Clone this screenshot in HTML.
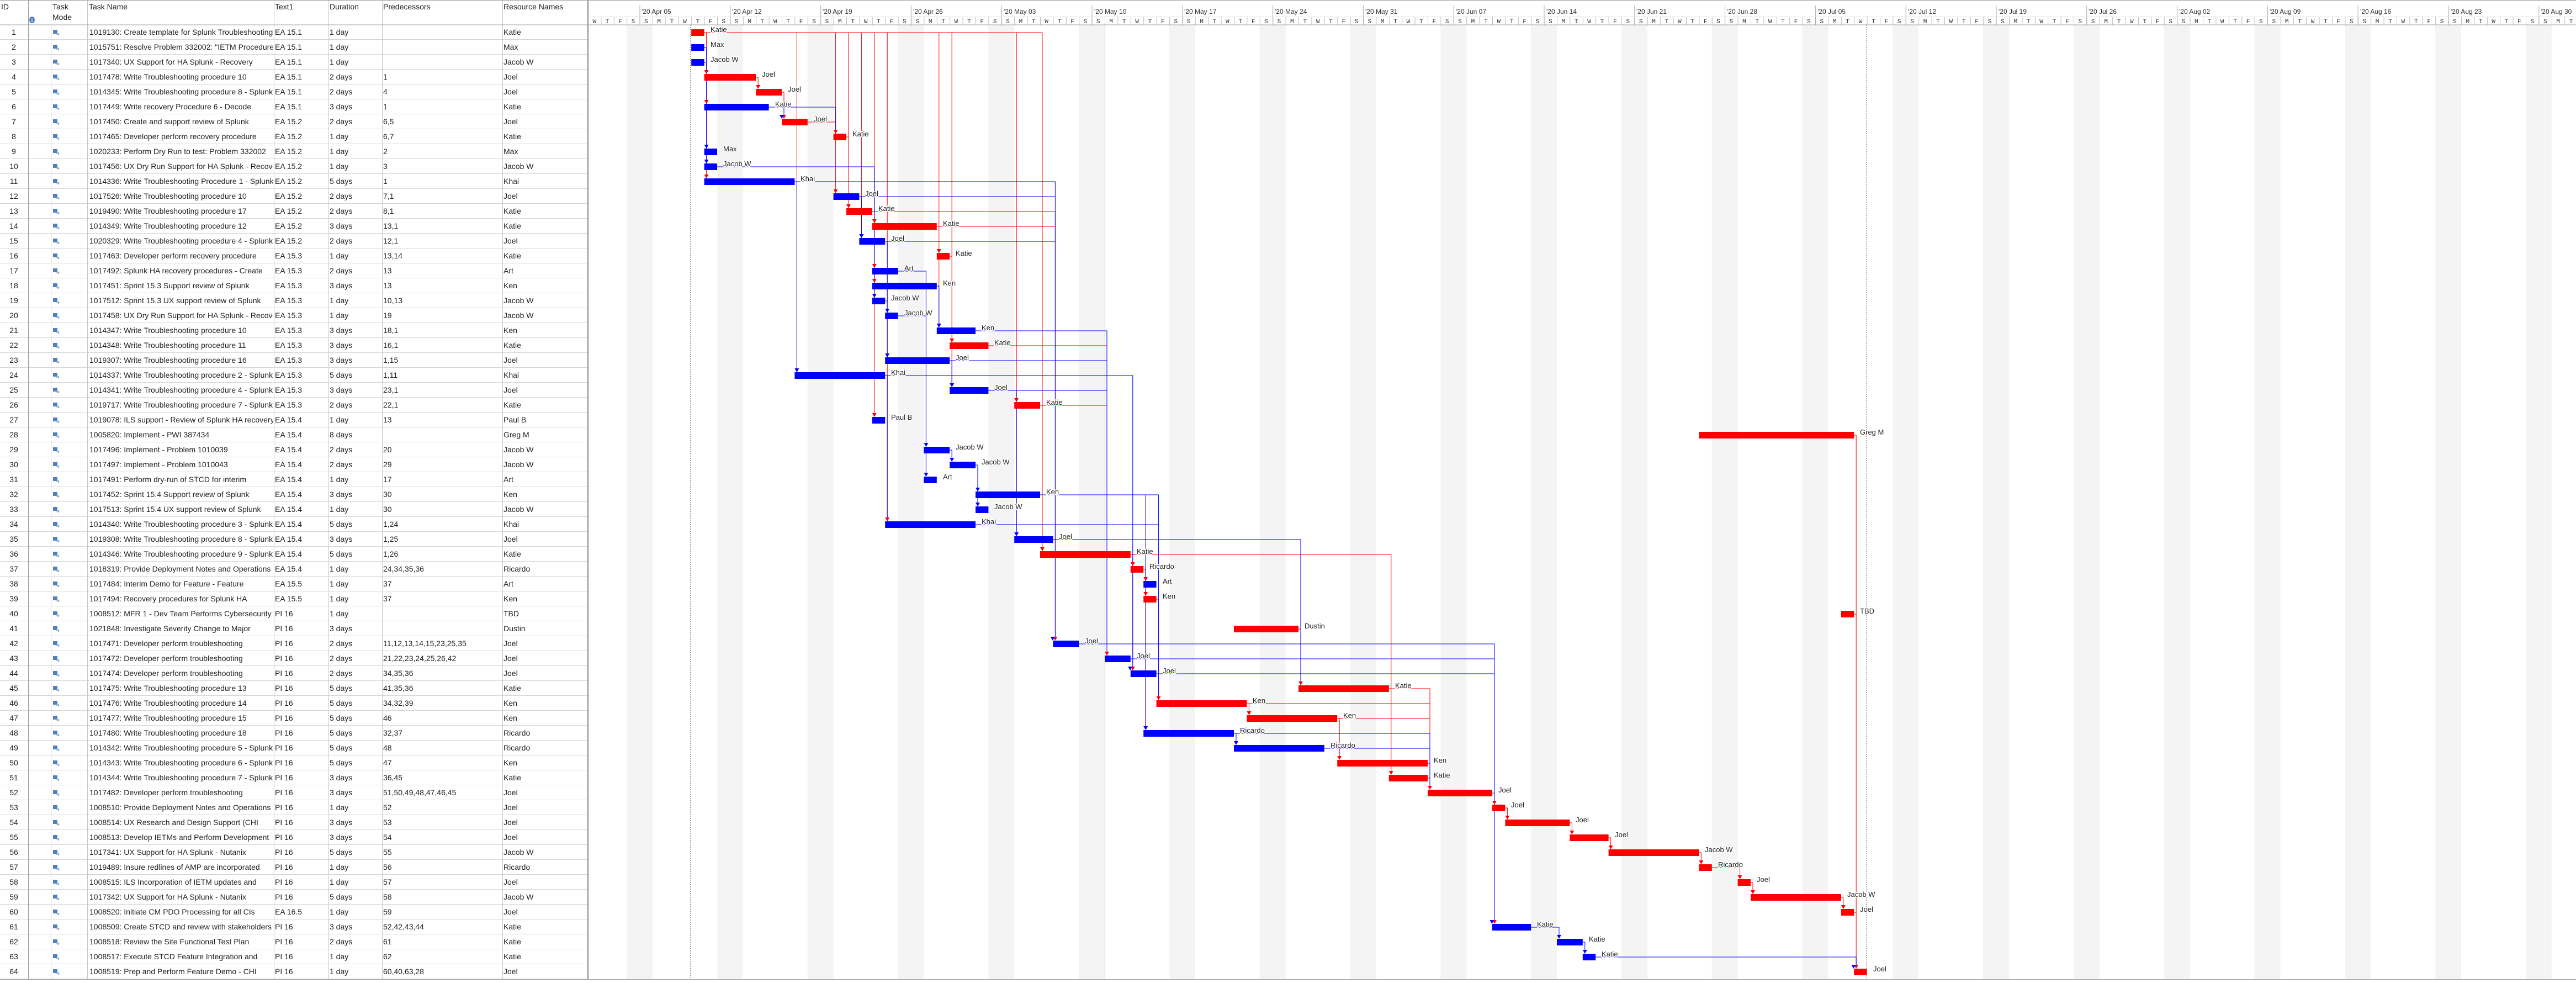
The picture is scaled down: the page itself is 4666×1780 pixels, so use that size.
<!DOCTYPE html>
<html><head><meta charset="utf-8"><style>
html,body{margin:0;padding:0;background:#fff;}
svg{display:block;font-family:"Liberation Sans",Arial,sans-serif;}
.c path{vector-effect:non-scaling-stroke;}
.tb{font-size:14px;fill:#222;}
.lb{font-size:13px;fill:#222;stroke:#fff;stroke-width:3px;paint-order:stroke;stroke-linejoin:round;}
</style></head><body>
<svg width="4666" height="1780" viewBox="0 0 4666 1780" xmlns="http://www.w3.org/2000/svg">
<defs>
<pattern id="wk" x="1065" y="0" width="163.8" height="20" patternUnits="userSpaceOnUse"><rect x="70.2" y="0" width="46.8" height="20" fill="#f4f4f4"/></pattern>
<pattern id="dt" x="1065" y="0" width="23.4" height="45" patternUnits="userSpaceOnUse"><line x1="0.5" y1="30" x2="0.5" y2="45" stroke="#bdbdbd"/></pattern>
<pattern id="wt" x="1065" y="0" width="163.8" height="45" patternUnits="userSpaceOnUse"><line x1="94" y1="10" x2="94" y2="45" stroke="#a8a8a8"/></pattern>
<pattern id="rl" x="0" y="45" width="20" height="27" patternUnits="userSpaceOnUse"><line x1="0" y1="26.5" x2="20" y2="26.5" stroke="#d6d6d6"/></pattern>
<pattern id="ic" x="92" y="45" width="66" height="27" patternUnits="userSpaceOnUse"><rect x="4" y="9" width="8" height="7" fill="#4f7fbf"/><path d="M10 17h5m-2-2l2 2-2 2" stroke="#6d8fb8" stroke-width="1" fill="none"/></pattern>
<clipPath id="cn"><rect x="158" y="45" width="337" height="1730"/></clipPath>
<clipPath id="ct"><rect x="496" y="45" width="98" height="1730"/></clipPath>
<clipPath id="cp"><rect x="692" y="45" width="217" height="1730"/></clipPath>
<clipPath id="cr"><rect x="910" y="45" width="154" height="1730"/></clipPath>
</defs>
<rect width="4666" height="1780" fill="#fff"/>
<!-- chart background -->
<rect x="1065" y="45" width="3601" height="1728" fill="url(#wk)"/>
<rect x="1065" y="0" width="3601" height="45" fill="url(#dt)"/>
<rect x="1065" y="0" width="3601" height="45" fill="url(#wt)"/>
<!-- table -->
<rect x="0" y="45" width="1065" height="1728" fill="url(#rl)"/>
<rect x="92" y="45" width="66" height="1728" fill="url(#ic)"/>
<g stroke="#c8c8c8">
<line x1="92.5" y1="0" x2="92.5" y2="1773"/><line x1="158.5" y1="0" x2="158.5" y2="1773"/><line x1="496.5" y1="0" x2="496.5" y2="1773"/><line x1="595.5" y1="0" x2="595.5" y2="1773"/><line x1="692.5" y1="0" x2="692.5" y2="1773"/><line x1="910.5" y1="0" x2="910.5" y2="1773"/>
</g>
<line x1="51.5" y1="0" x2="51.5" y2="1773" stroke="#9a9a9a"/>
<line x1="1065" y1="0" x2="1065" y2="1773" stroke="#8a8a8a" stroke-width="2"/>
<line x1="0" y1="0.5" x2="4666" y2="0.5" stroke="#a0a0a0"/>
<line x1="0" y1="45" x2="4666" y2="45" stroke="#a0a0a0"/>
<line x1="0" y1="1773.5" x2="4666" y2="1773.5" stroke="#a0a0a0"/>
<line x1="1065" y1="30.5" x2="4666" y2="30.5" stroke="#e0e0e0"/>
<!-- table header -->
<g class="tb" font-size="13">
<text x="2" y="17">ID</text><text x="95" y="17">Task</text><text x="95" y="36">Mode</text><text x="161" y="17">Task Name</text><text x="498" y="17">Text1</text><text x="597" y="17">Duration</text><text x="694" y="17">Predecessors</text><text x="912" y="17">Resource Names</text>
</g>
<ellipse cx="58" cy="36" rx="5" ry="6" fill="#4f7fbf"/><text x="58" y="40" font-size="9" fill="#fff" text-anchor="middle" font-weight="bold">i</text>
<!-- ID column -->
<text class="tb" text-anchor="middle"><tspan x="25" y="63">1</tspan><tspan x="25" y="90">2</tspan><tspan x="25" y="117">3</tspan><tspan x="25" y="144">4</tspan><tspan x="25" y="171">5</tspan><tspan x="25" y="198">6</tspan><tspan x="25" y="225">7</tspan><tspan x="25" y="252">8</tspan><tspan x="25" y="279">9</tspan><tspan x="25" y="306">10</tspan><tspan x="25" y="333">11</tspan><tspan x="25" y="360">12</tspan><tspan x="25" y="387">13</tspan><tspan x="25" y="414">14</tspan><tspan x="25" y="441">15</tspan><tspan x="25" y="468">16</tspan><tspan x="25" y="495">17</tspan><tspan x="25" y="522">18</tspan><tspan x="25" y="549">19</tspan><tspan x="25" y="576">20</tspan><tspan x="25" y="603">21</tspan><tspan x="25" y="630">22</tspan><tspan x="25" y="657">23</tspan><tspan x="25" y="684">24</tspan><tspan x="25" y="711">25</tspan><tspan x="25" y="738">26</tspan><tspan x="25" y="765">27</tspan><tspan x="25" y="792">28</tspan><tspan x="25" y="819">29</tspan><tspan x="25" y="846">30</tspan><tspan x="25" y="873">31</tspan><tspan x="25" y="900">32</tspan><tspan x="25" y="927">33</tspan><tspan x="25" y="954">34</tspan><tspan x="25" y="981">35</tspan><tspan x="25" y="1008">36</tspan><tspan x="25" y="1035">37</tspan><tspan x="25" y="1062">38</tspan><tspan x="25" y="1089">39</tspan><tspan x="25" y="1116">40</tspan><tspan x="25" y="1143">41</tspan><tspan x="25" y="1170">42</tspan><tspan x="25" y="1197">43</tspan><tspan x="25" y="1224">44</tspan><tspan x="25" y="1251">45</tspan><tspan x="25" y="1278">46</tspan><tspan x="25" y="1305">47</tspan><tspan x="25" y="1332">48</tspan><tspan x="25" y="1359">49</tspan><tspan x="25" y="1386">50</tspan><tspan x="25" y="1413">51</tspan><tspan x="25" y="1440">52</tspan><tspan x="25" y="1467">53</tspan><tspan x="25" y="1494">54</tspan><tspan x="25" y="1521">55</tspan><tspan x="25" y="1548">56</tspan><tspan x="25" y="1575">57</tspan><tspan x="25" y="1602">58</tspan><tspan x="25" y="1629">59</tspan><tspan x="25" y="1656">60</tspan><tspan x="25" y="1683">61</tspan><tspan x="25" y="1710">62</tspan><tspan x="25" y="1737">63</tspan><tspan x="25" y="1764">64</tspan></text>
<!-- Task Name -->
<g clip-path="url(#cn)"><text class="tb">
<tspan x="162" y="63">1019130: Create template for Splunk Troubleshooting</tspan>
<tspan x="162" y="90">1015751: Resolve Problem 332002: "IETM Procedure</tspan>
<tspan x="162" y="117">1017340: UX Support for HA Splunk - Recovery</tspan>
<tspan x="162" y="144">1017478: Write Troubleshooting procedure 10</tspan>
<tspan x="162" y="171">1014345: Write Troubleshooting procedure 8 - Splunk</tspan>
<tspan x="162" y="198">1017449: Write recovery Procedure 6 - Decode</tspan>
<tspan x="162" y="225">1017450: Create and support review of Splunk</tspan>
<tspan x="162" y="252">1017465: Developer perform recovery procedure</tspan>
<tspan x="162" y="279">1020233: Perform Dry Run to test: Problem 332002</tspan>
<tspan x="162" y="306">1017456: UX Dry Run Support for HA Splunk - Recovery</tspan>
<tspan x="162" y="333">1014336: Write Troubleshooting Procedure 1 - Splunk</tspan>
<tspan x="162" y="360">1017526: Write Troubleshooting procedure 10</tspan>
<tspan x="162" y="387">1019490: Write Troubleshooting procedure 17</tspan>
<tspan x="162" y="414">1014349: Write Troubleshooting procedure 12</tspan>
<tspan x="162" y="441">1020329: Write Troubleshooting procedure 4 - Splunk</tspan>
<tspan x="162" y="468">1017463: Developer perform recovery procedure</tspan>
<tspan x="162" y="495">1017492: Splunk HA recovery procedures - Create</tspan>
<tspan x="162" y="522">1017451: Sprint 15.3 Support review of Splunk</tspan>
<tspan x="162" y="549">1017512: Sprint 15.3 UX support review of Splunk</tspan>
<tspan x="162" y="576">1017458: UX Dry Run Support for HA Splunk - Recovery</tspan>
<tspan x="162" y="603">1014347: Write Troubleshooting procedure 10</tspan>
<tspan x="162" y="630">1014348: Write Troubleshooting procedure 11</tspan>
<tspan x="162" y="657">1019307: Write Troubleshooting procedure 16</tspan>
<tspan x="162" y="684">1014337: Write Troubleshooting procedure 2 - Splunk</tspan>
<tspan x="162" y="711">1014341: Write Troubleshooting procedure 4 - Splunk</tspan>
<tspan x="162" y="738">1019717: Write Troubleshooting procedure 7 - Splunk</tspan>
<tspan x="162" y="765">1019078: ILS support - Review of Splunk HA recovery</tspan>
<tspan x="162" y="792">1005820: Implement - PWI 387434</tspan>
<tspan x="162" y="819">1017496: Implement - Problem 1010039</tspan>
<tspan x="162" y="846">1017497: Implement - Problem 1010043</tspan>
<tspan x="162" y="873">1017491: Perform dry-run of STCD for interim</tspan>
<tspan x="162" y="900">1017452: Sprint 15.4 Support review of Splunk</tspan>
<tspan x="162" y="927">1017513: Sprint 15.4 UX support review of Splunk</tspan>
<tspan x="162" y="954">1014340: Write Troubleshooting procedure 3 - Splunk</tspan>
<tspan x="162" y="981">1019308: Write Troubleshooting procedure 8 - Splunk</tspan>
<tspan x="162" y="1008">1014346: Write Troubleshooting procedure 9 - Splunk</tspan>
<tspan x="162" y="1035">1018319: Provide Deployment Notes and Operations</tspan>
<tspan x="162" y="1062">1017484: Interim Demo for Feature - Feature</tspan>
<tspan x="162" y="1089">1017494: Recovery procedures for Splunk HA</tspan>
<tspan x="162" y="1116">1008512: MFR 1 - Dev Team Performs Cybersecurity</tspan>
<tspan x="162" y="1143">1021848: Investigate Severity Change to Major</tspan>
<tspan x="162" y="1170">1017471: Developer perform troubleshooting</tspan>
<tspan x="162" y="1197">1017472: Developer perform troubleshooting</tspan>
<tspan x="162" y="1224">1017474: Developer perform troubleshooting</tspan>
<tspan x="162" y="1251">1017475: Write Troubleshooting procedure 13</tspan>
<tspan x="162" y="1278">1017476: Write Troubleshooting procedure 14</tspan>
<tspan x="162" y="1305">1017477: Write Troubleshooting procedure 15</tspan>
<tspan x="162" y="1332">1017480: Write Troubleshooting procedure 18</tspan>
<tspan x="162" y="1359">1014342: Write Troubleshooting procedure 5 - Splunk</tspan>
<tspan x="162" y="1386">1014343: Write Troubleshooting procedure 6 - Splunk</tspan>
<tspan x="162" y="1413">1014344: Write Troubleshooting procedure 7 - Splunk</tspan>
<tspan x="162" y="1440">1017482: Developer perform troubleshooting</tspan>
<tspan x="162" y="1467">1008510: Provide Deployment Notes and Operations</tspan>
<tspan x="162" y="1494">1008514: UX Research and Design Support (CHI</tspan>
<tspan x="162" y="1521">1008513: Develop IETMs and Perform Development</tspan>
<tspan x="162" y="1548">1017341: UX Support for HA Splunk - Nutanix</tspan>
<tspan x="162" y="1575">1019489: Insure redlines of AMP are incorporated</tspan>
<tspan x="162" y="1602">1008515: ILS Incorporation of IETM updates and</tspan>
<tspan x="162" y="1629">1017342: UX Support for HA Splunk - Nutanix</tspan>
<tspan x="162" y="1656">1008520: Initiate CM PDO Processing for all CIs</tspan>
<tspan x="162" y="1683">1008509: Create STCD and review with stakeholders</tspan>
<tspan x="162" y="1710">1008518: Review the Site Functional Test Plan</tspan>
<tspan x="162" y="1737">1008517: Execute STCD Feature Integration and</tspan>
<tspan x="162" y="1764">1008519: Prep and Perform Feature Demo - CHI</tspan>
</text></g>
<!-- Text1 -->
<g clip-path="url(#ct)"><text class="tb">
<tspan x="498" y="63">EA 15.1</tspan><tspan x="498" y="90">EA 15.1</tspan><tspan x="498" y="117">EA 15.1</tspan><tspan x="498" y="144">EA 15.1</tspan><tspan x="498" y="171">EA 15.1</tspan><tspan x="498" y="198">EA 15.1</tspan>
<tspan x="498" y="225">EA 15.2</tspan><tspan x="498" y="252">EA 15.2</tspan><tspan x="498" y="279">EA 15.2</tspan><tspan x="498" y="306">EA 15.2</tspan><tspan x="498" y="333">EA 15.2</tspan><tspan x="498" y="360">EA 15.2</tspan><tspan x="498" y="387">EA 15.2</tspan><tspan x="498" y="414">EA 15.2</tspan><tspan x="498" y="441">EA 15.2</tspan>
<tspan x="498" y="468">EA 15.3</tspan><tspan x="498" y="495">EA 15.3</tspan><tspan x="498" y="522">EA 15.3</tspan><tspan x="498" y="549">EA 15.3</tspan><tspan x="498" y="576">EA 15.3</tspan><tspan x="498" y="603">EA 15.3</tspan><tspan x="498" y="630">EA 15.3</tspan><tspan x="498" y="657">EA 15.3</tspan><tspan x="498" y="684">EA 15.3</tspan><tspan x="498" y="711">EA 15.3</tspan><tspan x="498" y="738">EA 15.3</tspan>
<tspan x="498" y="765">EA 15.4</tspan><tspan x="498" y="792">EA 15.4</tspan><tspan x="498" y="819">EA 15.4</tspan><tspan x="498" y="846">EA 15.4</tspan><tspan x="498" y="873">EA 15.4</tspan><tspan x="498" y="900">EA 15.4</tspan><tspan x="498" y="927">EA 15.4</tspan><tspan x="498" y="954">EA 15.4</tspan><tspan x="498" y="981">EA 15.4</tspan><tspan x="498" y="1008">EA 15.4</tspan><tspan x="498" y="1035">EA 15.4</tspan>
<tspan x="498" y="1062">EA 15.5</tspan><tspan x="498" y="1089">EA 15.5</tspan>
<tspan x="498" y="1116">PI 16</tspan><tspan x="498" y="1143">PI 16</tspan><tspan x="498" y="1170">PI 16</tspan><tspan x="498" y="1197">PI 16</tspan><tspan x="498" y="1224">PI 16</tspan><tspan x="498" y="1251">PI 16</tspan><tspan x="498" y="1278">PI 16</tspan><tspan x="498" y="1305">PI 16</tspan><tspan x="498" y="1332">PI 16</tspan><tspan x="498" y="1359">PI 16</tspan><tspan x="498" y="1386">PI 16</tspan><tspan x="498" y="1413">PI 16</tspan><tspan x="498" y="1440">PI 16</tspan><tspan x="498" y="1467">PI 16</tspan><tspan x="498" y="1494">PI 16</tspan><tspan x="498" y="1521">PI 16</tspan><tspan x="498" y="1548">PI 16</tspan><tspan x="498" y="1575">PI 16</tspan><tspan x="498" y="1602">PI 16</tspan><tspan x="498" y="1629">PI 16</tspan><tspan x="498" y="1656">EA 16.5</tspan><tspan x="498" y="1683">PI 16</tspan><tspan x="498" y="1710">PI 16</tspan><tspan x="498" y="1737">PI 16</tspan><tspan x="498" y="1764">PI 16</tspan>
</text></g>
<!-- Duration -->
<text class="tb">
<tspan x="597" y="63">1 day</tspan><tspan x="597" y="90">1 day</tspan><tspan x="597" y="117">1 day</tspan><tspan x="597" y="144">2 days</tspan><tspan x="597" y="171">2 days</tspan><tspan x="597" y="198">3 days</tspan><tspan x="597" y="225">2 days</tspan><tspan x="597" y="252">1 day</tspan><tspan x="597" y="279">1 day</tspan><tspan x="597" y="306">1 day</tspan><tspan x="597" y="333">5 days</tspan><tspan x="597" y="360">2 days</tspan><tspan x="597" y="387">2 days</tspan><tspan x="597" y="414">3 days</tspan><tspan x="597" y="441">2 days</tspan><tspan x="597" y="468">1 day</tspan><tspan x="597" y="495">2 days</tspan><tspan x="597" y="522">3 days</tspan><tspan x="597" y="549">1 day</tspan><tspan x="597" y="576">1 day</tspan><tspan x="597" y="603">3 days</tspan><tspan x="597" y="630">3 days</tspan><tspan x="597" y="657">3 days</tspan><tspan x="597" y="684">5 days</tspan><tspan x="597" y="711">3 days</tspan><tspan x="597" y="738">2 days</tspan><tspan x="597" y="765">1 day</tspan><tspan x="597" y="792">8 days</tspan><tspan x="597" y="819">2 days</tspan><tspan x="597" y="846">2 days</tspan><tspan x="597" y="873">1 day</tspan><tspan x="597" y="900">3 days</tspan><tspan x="597" y="927">1 day</tspan><tspan x="597" y="954">5 days</tspan><tspan x="597" y="981">3 days</tspan><tspan x="597" y="1008">5 days</tspan><tspan x="597" y="1035">1 day</tspan><tspan x="597" y="1062">1 day</tspan><tspan x="597" y="1089">1 day</tspan><tspan x="597" y="1116">1 day</tspan><tspan x="597" y="1143">3 days</tspan><tspan x="597" y="1170">2 days</tspan><tspan x="597" y="1197">2 days</tspan><tspan x="597" y="1224">2 days</tspan><tspan x="597" y="1251">5 days</tspan><tspan x="597" y="1278">5 days</tspan><tspan x="597" y="1305">5 days</tspan><tspan x="597" y="1332">5 days</tspan><tspan x="597" y="1359">5 days</tspan><tspan x="597" y="1386">5 days</tspan><tspan x="597" y="1413">3 days</tspan><tspan x="597" y="1440">3 days</tspan><tspan x="597" y="1467">1 day</tspan><tspan x="597" y="1494">3 days</tspan><tspan x="597" y="1521">3 days</tspan><tspan x="597" y="1548">5 days</tspan><tspan x="597" y="1575">1 day</tspan><tspan x="597" y="1602">1 day</tspan><tspan x="597" y="1629">5 days</tspan><tspan x="597" y="1656">1 day</tspan><tspan x="597" y="1683">3 days</tspan><tspan x="597" y="1710">2 days</tspan><tspan x="597" y="1737">1 day</tspan><tspan x="597" y="1764">1 day</tspan>
</text>
<!-- Predecessors -->
<g clip-path="url(#cp)"><text class="tb">
<tspan x="694" y="144">1</tspan><tspan x="694" y="171">4</tspan><tspan x="694" y="198">1</tspan><tspan x="694" y="225">6,5</tspan><tspan x="694" y="252">6,7</tspan><tspan x="694" y="279">2</tspan><tspan x="694" y="306">3</tspan><tspan x="694" y="333">1</tspan><tspan x="694" y="360">7,1</tspan><tspan x="694" y="387">8,1</tspan><tspan x="694" y="414">13,1</tspan><tspan x="694" y="441">12,1</tspan><tspan x="694" y="468">13,14</tspan><tspan x="694" y="495">13</tspan><tspan x="694" y="522">13</tspan><tspan x="694" y="549">10,13</tspan><tspan x="694" y="576">19</tspan><tspan x="694" y="603">18,1</tspan><tspan x="694" y="630">16,1</tspan><tspan x="694" y="657">1,15</tspan><tspan x="694" y="684">1,11</tspan><tspan x="694" y="711">23,1</tspan><tspan x="694" y="738">22,1</tspan><tspan x="694" y="765">13</tspan><tspan x="694" y="819">20</tspan><tspan x="694" y="846">29</tspan><tspan x="694" y="873">17</tspan><tspan x="694" y="900">30</tspan><tspan x="694" y="927">30</tspan><tspan x="694" y="954">1,24</tspan><tspan x="694" y="981">1,25</tspan><tspan x="694" y="1008">1,26</tspan><tspan x="694" y="1035">24,34,35,36</tspan><tspan x="694" y="1062">37</tspan><tspan x="694" y="1089">37</tspan><tspan x="694" y="1170">11,12,13,14,15,23,25,35</tspan><tspan x="694" y="1197">21,22,23,24,25,26,42</tspan><tspan x="694" y="1224">34,35,36</tspan><tspan x="694" y="1251">41,35,36</tspan><tspan x="694" y="1278">34,32,39</tspan><tspan x="694" y="1305">46</tspan><tspan x="694" y="1332">32,37</tspan><tspan x="694" y="1359">48</tspan><tspan x="694" y="1386">47</tspan><tspan x="694" y="1413">36,45</tspan><tspan x="694" y="1440">51,50,49,48,47,46,45</tspan><tspan x="694" y="1467">52</tspan><tspan x="694" y="1494">53</tspan><tspan x="694" y="1521">54</tspan><tspan x="694" y="1548">55</tspan><tspan x="694" y="1575">56</tspan><tspan x="694" y="1602">57</tspan><tspan x="694" y="1629">58</tspan><tspan x="694" y="1656">59</tspan><tspan x="694" y="1683">52,42,43,44</tspan><tspan x="694" y="1710">61</tspan><tspan x="694" y="1737">62</tspan><tspan x="694" y="1764">60,40,63,28</tspan>
</text></g>
<!-- Resources -->
<g clip-path="url(#cr)"><text class="tb">
<tspan x="912" y="63">Katie</tspan><tspan x="912" y="90">Max</tspan><tspan x="912" y="117">Jacob W</tspan><tspan x="912" y="144">Joel</tspan><tspan x="912" y="171">Joel</tspan><tspan x="912" y="198">Katie</tspan><tspan x="912" y="225">Joel</tspan><tspan x="912" y="252">Katie</tspan><tspan x="912" y="279">Max</tspan><tspan x="912" y="306">Jacob W</tspan><tspan x="912" y="333">Khai</tspan><tspan x="912" y="360">Joel</tspan><tspan x="912" y="387">Katie</tspan><tspan x="912" y="414">Katie</tspan><tspan x="912" y="441">Joel</tspan><tspan x="912" y="468">Katie</tspan><tspan x="912" y="495">Art</tspan><tspan x="912" y="522">Ken</tspan><tspan x="912" y="549">Jacob W</tspan><tspan x="912" y="576">Jacob W</tspan><tspan x="912" y="603">Ken</tspan><tspan x="912" y="630">Katie</tspan><tspan x="912" y="657">Joel</tspan><tspan x="912" y="684">Khai</tspan><tspan x="912" y="711">Joel</tspan><tspan x="912" y="738">Katie</tspan><tspan x="912" y="765">Paul B</tspan><tspan x="912" y="792">Greg M</tspan><tspan x="912" y="819">Jacob W</tspan><tspan x="912" y="846">Jacob W</tspan><tspan x="912" y="873">Art</tspan><tspan x="912" y="900">Ken</tspan><tspan x="912" y="927">Jacob W</tspan><tspan x="912" y="954">Khai</tspan><tspan x="912" y="981">Joel</tspan><tspan x="912" y="1008">Katie</tspan><tspan x="912" y="1035">Ricardo</tspan><tspan x="912" y="1062">Art</tspan><tspan x="912" y="1089">Ken</tspan><tspan x="912" y="1116">TBD</tspan><tspan x="912" y="1143">Dustin</tspan><tspan x="912" y="1170">Joel</tspan><tspan x="912" y="1197">Joel</tspan><tspan x="912" y="1224">Joel</tspan><tspan x="912" y="1251">Katie</tspan><tspan x="912" y="1278">Ken</tspan><tspan x="912" y="1305">Ken</tspan><tspan x="912" y="1332">Ricardo</tspan><tspan x="912" y="1359">Ricardo</tspan><tspan x="912" y="1386">Ken</tspan><tspan x="912" y="1413">Katie</tspan><tspan x="912" y="1440">Joel</tspan><tspan x="912" y="1467">Joel</tspan><tspan x="912" y="1494">Joel</tspan><tspan x="912" y="1521">Joel</tspan><tspan x="912" y="1548">Jacob W</tspan><tspan x="912" y="1575">Ricardo</tspan><tspan x="912" y="1602">Joel</tspan><tspan x="912" y="1629">Jacob W</tspan><tspan x="912" y="1656">Joel</tspan><tspan x="912" y="1683">Katie</tspan><tspan x="912" y="1710">Katie</tspan><tspan x="912" y="1737">Katie</tspan><tspan x="912" y="1764">Joel</tspan>
</text></g>
<!-- timescale header -->
<g font-size="12" fill="#333">
<text x="1162" y="25">'20 Apr 05</text><text x="1326" y="25">'20 Apr 12</text><text x="1490" y="25">'20 Apr 19</text><text x="1654" y="25">'20 Apr 26</text><text x="1818" y="25">'20 May 03</text><text x="1982" y="25">'20 May 10</text><text x="2145" y="25">'20 May 17</text><text x="2309" y="25">'20 May 24</text><text x="2473" y="25">'20 May 31</text><text x="2637" y="25">'20 Jun 07</text><text x="2801" y="25">'20 Jun 14</text><text x="2964" y="25">'20 Jun 21</text><text x="3128" y="25">'20 Jun 28</text><text x="3292" y="25">'20 Jul 05</text><text x="3456" y="25">'20 Jul 12</text><text x="3620" y="25">'20 Jul 19</text><text x="3783" y="25">'20 Jul 26</text><text x="3947" y="25">'20 Aug 02</text><text x="4111" y="25">'20 Aug 09</text><text x="4275" y="25">'20 Aug 16</text><text x="4439" y="25">'20 Aug 23</text><text x="4602" y="25">'20 Aug 30</text>
</g>
<text x="1073.4" y="42" font-family="'Liberation Mono',monospace" font-size="11" fill="#333" letter-spacing="16.8">WTFSSMTWTFSSMTWTFSSMTWTFSSMTWTFSSMTWTFSSMTWTFSSMTWTFSSMTWTFSSMTWTFSSMTWTFSSMTWTFSSMTWTFSSMTWTFSSMTWTFSSMTWTFSSMTWTFSSMTWTFSSMTWTFSSMTWTFSSMTWTFSSMTWTFSSMT</text>
<!-- status lines -->
<line x1="1250.5" y1="45" x2="1250.5" y2="1773" stroke="#888" stroke-dasharray="2,2"/>
<line x1="3380.5" y1="45" x2="3380.5" y2="1773" stroke="#888" stroke-dasharray="2,2"/>
<line x1="2001.5" y1="45" x2="2001.5" y2="1773" stroke="#a8c8a8"/>
<!-- connectors, bars, arrows -->
<g class="c" transform="translate(1065 0) scale(23.4 1)" fill="none" stroke-width="1">
<path stroke="#f00" d="M9,59H35.17 M9.17,59V316 M19.17,59V343 M20.17,59V370 M21.17,59V424 M22.17,59V397 M23.17,59V937 M16.17,59V667 M27.17,59V586 M28.17,59V694 M33.17,59V964 M35.17,59V991
M13,140H13.17V154 M15,167H15.17V208 M17,221H19.17V343 M20,248H20.17V370
M22,383H36.17V1153 M22.17,383V748 M27.17,383V451
M27,410H36.17V1153 M27.17,410V451
M28,464H28.17V613
M31,626H40.17V1180 M33.17,626V721
M35,734H40.17V1180 M35.17,734V991
M98,788H98.17V1747
M42,1004H62.17V1396 M42.17,1004V1207 M55.17,1004V1234
M43,1031H43.17V1315
M44,1085H44.17V1261
M98,1112H98.17V1747
M55,1139H55.17V1234
M62,1247H65.17V1423 M62.17,1247V1396
M51,1274H65.17V1423 M51.17,1274V1288
M58,1301H65.17V1423 M58.17,1301V1369
M65,1382H65.17V1423 M65,1409H65.17V1423
M70,1436H70.17V1666
M71,1463H71.17V1477 M76,1490H76.17V1504 M79,1517H79.17V1531 M86,1544H86.17V1558 M87,1571H89.17V1585 M90,1598H90.17V1612 M97,1625H97.17V1639 M98,1652H98.17V1747"/>
<path stroke="#00f" d="M9,86H9.17V262 M9,113H9.17V289
M14,194H19.17V235 M15.17,194V208
M10,302H22.17V532
M16,329H36.17V1153 M16.17,329V667
M21,356H36.17V1153 M21.17,356V424
M23,437H36.17V1153 M23.17,437V640
M24,491H26.17V856
M27,518H27.17V586
M23,545H23.17V559
M24,572H26.17V802
M30,599H40.17V1180
M28,653H40.17V1180 M28.17,653V694 M36.17,653V1153
M23,680H42.17V1018 M23.17,680V937 M40.17,680V1180
M31,707H40.17V1180 M33.17,707V964 M36.17,707V1153
M28,815H28.17V829
M30,842H30.17V910
M35,896H44.17V1261 M43.17,896V1315
M30,950H44.17V1261 M42.17,950V1207
M36,977H55.17V1234 M36.17,977V1153 M42.17,977V1207
M38,1166H70.17V1666 M40.17,1166V1180
M42,1193H70.17V1666
M44,1220H70.17V1666
M50,1328H65.17V1423 M50.17,1328V1342
M57,1355H65.17V1423
M73,1679H75.17V1693
M77,1706H77.17V1720
M78,1733H98.17V1747"/>
</g>
<g transform="translate(1065 0) scale(23.4 1)">
<g fill="#f00">
<rect x="8" y="53" width="1" height="12"/><rect x="9" y="134" width="4" height="12"/><rect x="13" y="161" width="2" height="12"/><rect x="15" y="215" width="2" height="12"/><rect x="19" y="242" width="1" height="12"/><rect x="20" y="377" width="2" height="12"/><rect x="22" y="404" width="5" height="12"/><rect x="27" y="458" width="1" height="12"/><rect x="28" y="620" width="3" height="12"/><rect x="33" y="728" width="2" height="12"/><rect x="86" y="782" width="12" height="12"/><rect x="35" y="998" width="7" height="12"/><rect x="42" y="1025" width="1" height="12"/><rect x="43" y="1079" width="1" height="12"/><rect x="97" y="1106" width="1" height="12"/><rect x="50" y="1133" width="5" height="12"/><rect x="55" y="1241" width="7" height="12"/><rect x="44" y="1268" width="7" height="12"/><rect x="51" y="1295" width="7" height="12"/><rect x="58" y="1376" width="7" height="12"/><rect x="62" y="1403" width="3" height="12"/><rect x="65" y="1430" width="5" height="12"/><rect x="70" y="1457" width="1" height="12"/><rect x="71" y="1484" width="5" height="12"/><rect x="76" y="1511" width="3" height="12"/><rect x="79" y="1538" width="7" height="12"/><rect x="86" y="1565" width="1" height="12"/><rect x="89" y="1592" width="1" height="12"/><rect x="90" y="1619" width="7" height="12"/><rect x="97" y="1646" width="1" height="12"/><rect x="98" y="1754" width="1" height="12"/>
</g>
<g fill="#00f">
<rect x="8" y="80" width="1" height="12"/><rect x="8" y="107" width="1" height="12"/><rect x="9" y="188" width="5" height="12"/><rect x="9" y="269" width="1" height="12"/><rect x="9" y="296" width="1" height="12"/><rect x="9" y="323" width="7" height="12"/><rect x="19" y="350" width="2" height="12"/><rect x="21" y="431" width="2" height="12"/><rect x="22" y="485" width="2" height="12"/><rect x="22" y="512" width="5" height="12"/><rect x="22" y="539" width="1" height="12"/><rect x="23" y="566" width="1" height="12"/><rect x="27" y="593" width="3" height="12"/><rect x="23" y="647" width="5" height="12"/><rect x="16" y="674" width="7" height="12"/><rect x="28" y="701" width="3" height="12"/><rect x="22" y="755" width="1" height="12"/><rect x="26" y="809" width="2" height="12"/><rect x="28" y="836" width="2" height="12"/><rect x="26" y="863" width="1" height="12"/><rect x="30" y="890" width="5" height="12"/><rect x="30" y="917" width="1" height="12"/><rect x="23" y="944" width="7" height="12"/><rect x="33" y="971" width="3" height="12"/><rect x="43" y="1052" width="1" height="12"/><rect x="36" y="1160" width="2" height="12"/><rect x="40" y="1187" width="2" height="12"/><rect x="42" y="1214" width="2" height="12"/><rect x="43" y="1322" width="7" height="12"/><rect x="50" y="1349" width="7" height="12"/><rect x="70" y="1673" width="3" height="12"/><rect x="75" y="1700" width="2" height="12"/><rect x="77" y="1727" width="1" height="12"/>
</g>
<path fill="#f00" d="M9,127h.34l-.17,7z M9,181h.34l-.17,7z M9,316h.34l-.17,7z M19,343h.34l-.17,7z M20,370h.34l-.17,7z M22,397h.34l-.17,7z M21,424h.34l-.17,7z M27,586h.34l-.17,7z M28,613h.34l-.17,7z M23,640h.34l-.17,7z M16,667h.34l-.17,7z M28,694h.34l-.17,7z M33,721h.34l-.17,7z M23,937h.34l-.17,7z M33,964h.34l-.17,7z M35,991h.34l-.17,7z M13,154h.34l-.17,7z M15,208h.34l-.17,7z M19,235h.34l-.17,7z M27,451h.34l-.17,7z M22,478h.34l-.17,7z M22,505h.34l-.17,7z M22,532h.34l-.17,7z M22,748h.34l-.17,7z M36,1153h.34l-.17,7z M40,1180h.34l-.17,7z M98,1747h.34l-.17,7z M42,1018h.34l-.17,7z M42,1207h.34l-.17,7z M55,1234h.34l-.17,7z M62,1396h.34l-.17,7z M43,1045h.34l-.17,7z M43,1072h.34l-.17,7z M43,1315h.34l-.17,7z M44,1261h.34l-.17,7z M65,1423h.34l-.17,7z M51,1288h.34l-.17,7z M58,1369h.34l-.17,7z M70,1450h.34l-.17,7z M70,1666h.34l-.17,7z M71,1477h.34l-.17,7z M76,1504h.34l-.17,7z M79,1531h.34l-.17,7z M86,1558h.34l-.17,7z M89,1585h.34l-.17,7z M90,1612h.34l-.17,7z M97,1639h.34l-.17,7z"/>
<path fill="#00f" d="M9,262h.34l-.17,7z M9,289h.34l-.17,7z M14.83,208h.34l-.17,7z M22,532h.34l-.17,7z M16,667h.34l-.17,7z M21,424h.34l-.17,7z M23,640h.34l-.17,7z M26,856h.34l-.17,7z M27,586h.34l-.17,7z M23,559h.34l-.17,7z M26,802h.34l-.17,7z M28,694h.34l-.17,7z M33,964h.34l-.17,7z M28,829h.34l-.17,7z M30,883h.34l-.17,7z M30,910h.34l-.17,7z M43,1315h.34l-.17,7z M50,1342h.34l-.17,7z M75,1693h.34l-.17,7z M77,1720h.34l-.17,7z M97.8,1747h.34l-.17,7z M69.8,1666h.34l-.17,7z M35.8,1153h.34l-.17,7z M41.8,1207h.34l-.17,7z"/>
</g>
<!-- bar labels -->
<g class="lb">
<text x="1287" y="58">Katie</text><text x="1287" y="85">Max</text><text x="1287" y="112">Jacob W</text><text x="1380" y="139">Joel</text><text x="1427" y="166">Joel</text><text x="1404" y="193">Katie</text><text x="1474" y="220">Joel</text><text x="1544" y="247">Katie</text><text x="1310" y="274">Max</text><text x="1310" y="301">Jacob W</text><text x="1450" y="328">Khai</text><text x="1567" y="355">Joel</text><text x="1591" y="382">Katie</text><text x="1708" y="409">Katie</text><text x="1614" y="436">Joel</text><text x="1731" y="463">Katie</text><text x="1638" y="490">Art</text><text x="1708" y="517">Ken</text><text x="1614" y="544">Jacob W</text><text x="1638" y="571">Jacob W</text><text x="1778" y="598">Ken</text><text x="1801" y="625">Katie</text><text x="1731" y="652">Joel</text><text x="1614" y="679">Khai</text><text x="1801" y="706">Joel</text><text x="1895" y="733">Katie</text><text x="1614" y="760">Paul B</text><text x="3369" y="787">Greg M</text><text x="1731" y="814">Jacob W</text><text x="1778" y="841">Jacob W</text><text x="1708" y="868">Art</text><text x="1895" y="895">Ken</text><text x="1801" y="922">Jacob W</text><text x="1778" y="949">Khai</text><text x="1918" y="976">Joel</text><text x="2059" y="1003">Katie</text><text x="2082" y="1030">Ricardo</text><text x="2106" y="1057">Art</text><text x="2106" y="1084">Ken</text><text x="3369" y="1111">TBD</text><text x="2363" y="1138">Dustin</text><text x="1965" y="1165">Joel</text><text x="2059" y="1192">Joel</text><text x="2106" y="1219">Joel</text><text x="2527" y="1246">Katie</text><text x="2269" y="1273">Ken</text><text x="2433" y="1300">Ken</text><text x="2246" y="1327">Ricardo</text><text x="2410" y="1354">Ricardo</text><text x="2597" y="1381">Ken</text><text x="2597" y="1408">Katie</text><text x="2714" y="1435">Joel</text><text x="2737" y="1462">Joel</text><text x="2854" y="1489">Joel</text><text x="2925" y="1516">Joel</text><text x="3088" y="1543">Jacob W</text><text x="3112" y="1570">Ricardo</text><text x="3182" y="1597">Joel</text><text x="3346" y="1624">Jacob W</text><text x="3369" y="1651">Joel</text><text x="2784" y="1678">Katie</text><text x="2878" y="1705">Katie</text><text x="2901" y="1732">Katie</text><text x="3393" y="1759">Joel</text>
</g>
</svg>
</body></html>
